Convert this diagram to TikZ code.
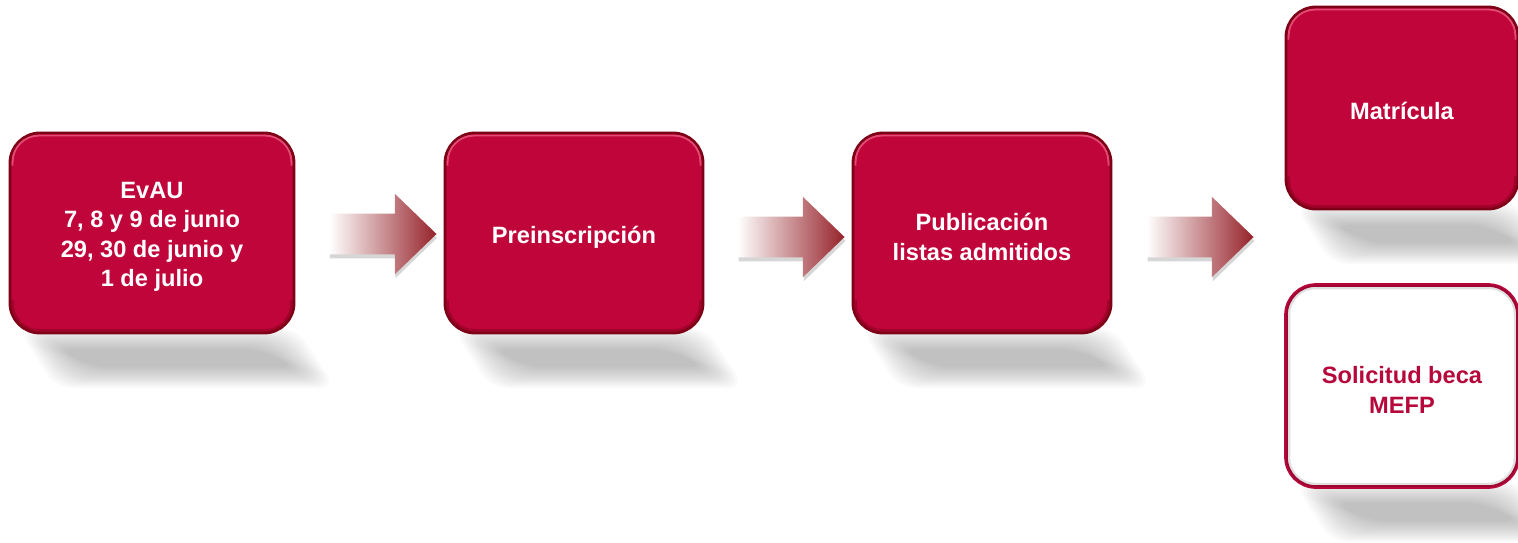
\documentclass[tikz,border=0pt]{standalone}
\usepackage{fontspec}
\setmainfont{Liberation Sans}
\usetikzlibrary{shapes.arrows,calc}
\definecolor{boxred}{RGB}{192,5,58}
\definecolor{edgered}{RGB}{125,0,22}
\definecolor{hilite}{RGB}{238,92,130}
\definecolor{innerdark}{RGB}{140,0,32}
\definecolor{arrowred}{RGB}{150,35,42}
\definecolor{textred}{RGB}{182,8,58}
\newcommand\boxshadow[3]{%
  \foreach \k in {0,...,13}{%
    \fill[black, opacity=0.02, rounded corners=12pt]
      ({#1+8+\k*3},{#3-5+\k*1.6}) -- ({#2+3-\k*3},{#3-5+\k*1.6}) --
      ({#2+42-\k*3},{#3+55-\k*1.6}) -- ({#1+45+\k*3},{#3+55-\k*1.6}) -- cycle;
  }}
\newcommand\bevel[1]{%
  \draw[hilite, line width=1.3pt, opacity=0.8, rounded corners=0.66cm]
    ($(#1.north west)+(4,34)$) |- ($(#1.north)+(0,4)$) -| ($(#1.north east)+(-4,34)$);
  \draw[innerdark, line width=2pt, opacity=0.6, rounded corners=0.66cm]
    ($(#1.south west)+(4,-34)$) |- ($(#1.south)+(0,-4)$) -| ($(#1.south east)+(-4,-34)$);
}
\tikzset{
  stepbox/.style={rounded corners=0.75cm, fill=boxred, draw=edgered, line width=2pt,
    inner sep=0pt},
  whitebox/.style={stepbox, fill=white, draw=textred, line width=2.6pt},
  boxtext/.style={align=center, text=white, inner sep=0pt,
    font=\bfseries\fontsize{16.8}{21}\selectfont},
  redtext/.style={boxtext, text=textred},
  arrowbase/.style={single arrow, minimum height=2.675cm, inner xsep=0pt, inner ysep=0.5cm,
    single arrow head extend=0.5cm, single arrow tip angle=88, draw=none},
  flowarrow/.style={arrowbase, left color=white, right color=arrowred},
  arrowshade/.style={arrowbase, fill=black, opacity=0.16}
}
\begin{document}
\begin{tikzpicture}[x=0.025cm, y=-0.025cm]
\useasboundingbox (0,0) rectangle (1518,542);
% shadows beneath boxes
\boxshadow{10}{294}{333}
\boxshadow{445}{703}{333}
\boxshadow{853}{1111}{333}
\boxshadow{1286}{1518}{209}
\boxshadow{1286}{1518}{487}
% arrows
\node[arrowshade] (s1) at (373,238) {};
\node[arrowshade] (s2) at (781.5,241) {};
\node[arrowshade] (s3) at (1190.5,241) {};
\node[flowarrow] (a1) at (372.5,234) {};
\node[flowarrow] (a2) at (780.5,237) {};
\node[flowarrow] (a3) at (1189.5,237) {};
% boxes
\node[stepbox, minimum width=7.1cm, minimum height=5cm] (evau) at (152,233) {};
\node[stepbox, minimum width=6.45cm, minimum height=5cm] (pre) at (574,233) {};
\node[stepbox, minimum width=6.45cm, minimum height=5cm] (pub) at (982,233) {};
\node[stepbox, minimum width=5.8cm, minimum height=5.05cm] (mat) at (1402,108) {};
\node[whitebox, minimum width=5.8cm, minimum height=5.05cm] (beca) at (1402,386) {};
\bevel{evau}
\bevel{pre}
\bevel{pub}
\bevel{mat}
\draw[black, opacity=0.12, line width=3pt, rounded corners=0.68cm]
  ($(beca.north west)+(4,4)$) rectangle ($(beca.south east)+(-4,-4)$);
% texts
\node[boxtext] (evaut) at ($(evau.center)+(0,4)$)
  {EvAU\\7, 8 y 9 de junio\\29, 30 de junio y\\1 de julio};
\node[boxtext] (pret) at ($(pre.center)+(0,4)$) {Preinscripción};
\node[boxtext] (pubt) at ($(pub.center)+(0,4)$) {Publicación\\listas admitidos};
\node[boxtext] (matt) at ($(mat.center)+(0,3)$) {Matrícula};
\node[redtext] (becat) at ($(beca.center)+(0,4)$) {Solicitud beca\\MEFP};
\end{tikzpicture}
\end{document}
